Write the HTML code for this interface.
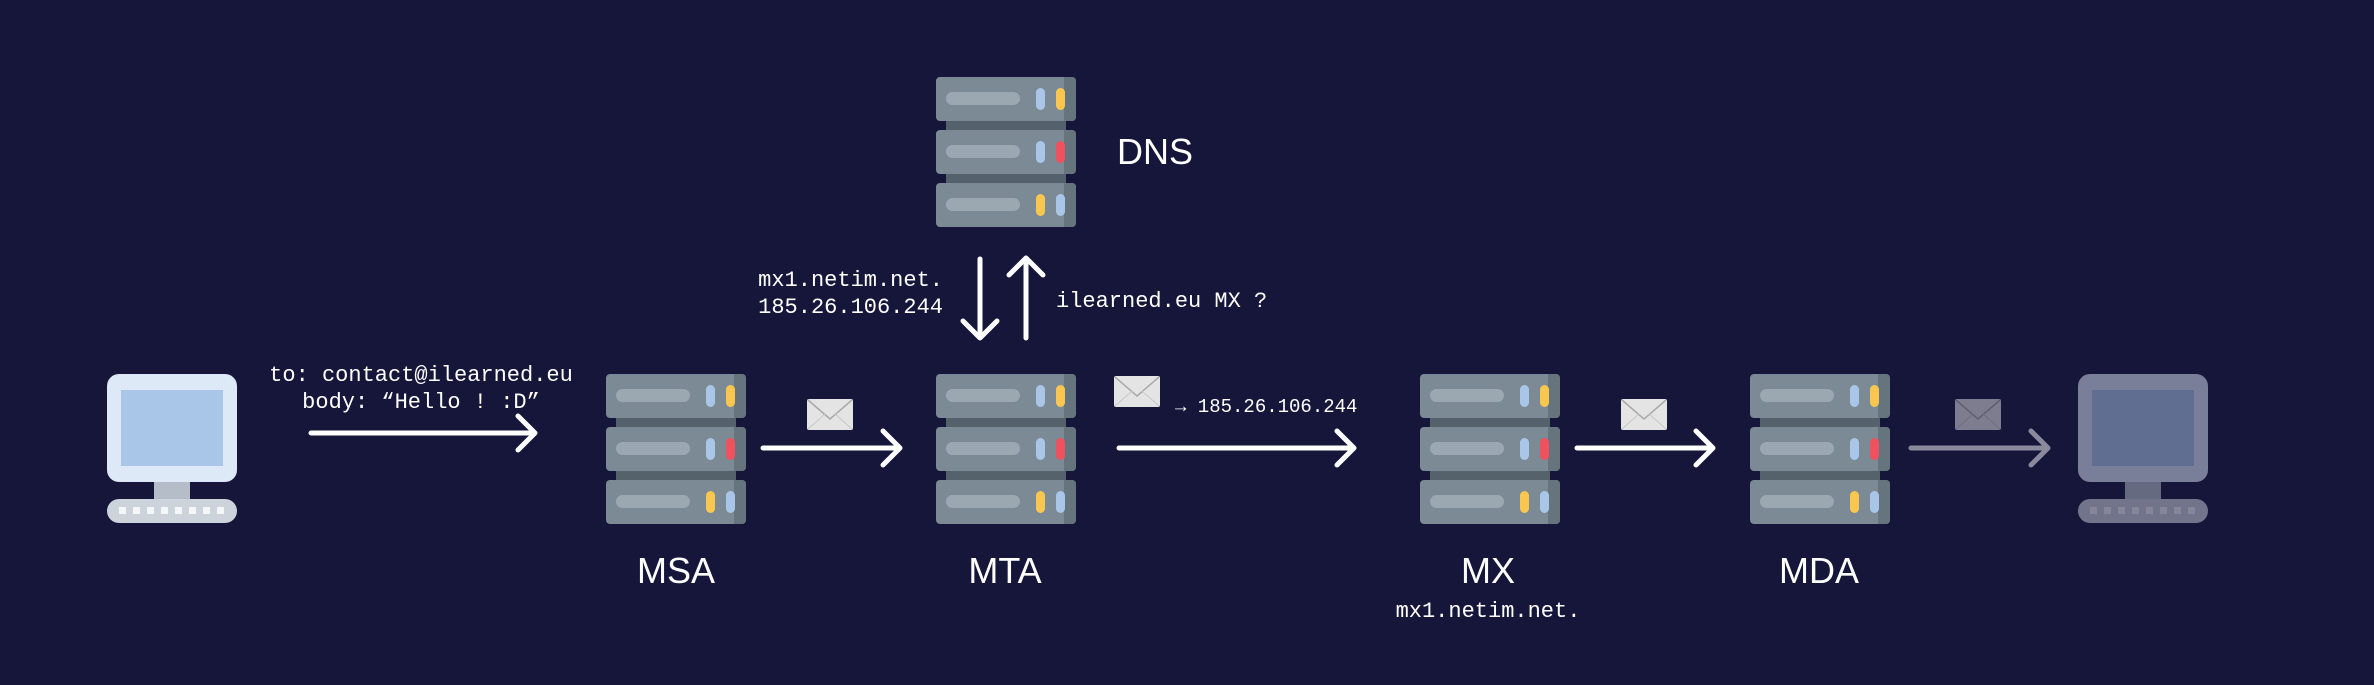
<!DOCTYPE html>
<html><head><meta charset="utf-8"><style>
html,body{margin:0;padding:0;background:#16153a;}
svg{display:block}
.lbl{font-family:"Liberation Sans",sans-serif;font-size:36px;fill:#fff;font-weight:500}
.mono{font-family:"Liberation Mono",monospace;font-size:22px;fill:#fff}
</style></head><body>
<svg width="2374" height="685" viewBox="0 0 2374 685" xmlns="http://www.w3.org/2000/svg">
<defs>
<g id="unit">
  <rect x="0" y="0" width="140" height="44" rx="4" fill="#7b8a94"/>
  <path d="M128 0 h8 a4 4 0 0 1 4 4 v36 a4 4 0 0 1 -4 4 h-8z" fill="#66747d"/>
  <rect x="10" y="15" width="74" height="13" rx="6.5" fill="#9ba8b1"/>
</g>
<g id="server">
  <rect x="10" y="40" width="120" height="20" fill="#55626b"/>
  <rect x="10" y="92" width="120" height="20" fill="#55626b"/>
  <use href="#unit" y="0"/>
  <use href="#unit" y="53"/>
  <use href="#unit" y="106"/>
  <rect x="100" y="11" width="9" height="22" rx="4.5" fill="#a9c6e8"/>
  <rect x="120" y="11" width="9" height="22" rx="4.5" fill="#f9c74f"/>
  <rect x="100" y="64" width="9" height="22" rx="4.5" fill="#a9c6e8"/>
  <rect x="120" y="64" width="9" height="22" rx="4.5" fill="#f0515e"/>
  <rect x="100" y="117" width="9" height="22" rx="4.5" fill="#f9c74f"/>
  <rect x="120" y="117" width="9" height="22" rx="4.5" fill="#a9c6e8"/>
</g>
<g id="pc">
  <rect x="47" y="105" width="36" height="20" fill="#b5bec8"/>
  <rect x="0" y="0" width="130" height="108" rx="12" fill="#dde9f7"/>
  <rect x="14" y="16" width="102" height="76" fill="#a9c6e8"/>
  <rect x="0" y="125" width="130" height="24" rx="12" fill="#cdd3db"/>
  <g fill="#f4f6f8">
    <rect x="12" y="133" width="7" height="7"/><rect x="26" y="133" width="7" height="7"/><rect x="40" y="133" width="7" height="7"/><rect x="54" y="133" width="7" height="7"/><rect x="68" y="133" width="7" height="7"/><rect x="82" y="133" width="7" height="7"/><rect x="96" y="133" width="7" height="7"/><rect x="110" y="133" width="7" height="7"/>
  </g>
</g>
<g id="env">
  <rect x="0" y="0" width="46" height="31" rx="2" fill="#e4e4e4"/>
  <path d="M1 1 L23 20 L45 1" fill="none" stroke="#a9a9a9" stroke-width="1.5"/>
  <path d="M1 30 L18 15 M45 30 L28 15" fill="none" stroke="#c8c8c8" stroke-width="1"/>
</g>
</defs>

<!-- computers -->
<use href="#pc" x="107" y="374"/>
<use href="#pc" x="2078" y="374" opacity="0.5"/>

<!-- servers -->
<use href="#server" x="606" y="374"/>
<use href="#server" x="936" y="374"/>
<use href="#server" x="936" y="77"/>
<use href="#server" x="1420" y="374"/>
<use href="#server" x="1750" y="374"/>

<!-- arrows -->
<g stroke="#fff" stroke-width="5" fill="none" stroke-linecap="round" stroke-linejoin="round">
  <path d="M311 433 H535 M518 416 L535 433 L518 450"/>
  <path d="M763 448 H900 M883 431 L900 448 L883 465"/>
  <path d="M1119 448 H1354 M1337 431 L1354 448 L1337 465"/>
  <path d="M1577 448 H1713 M1696 431 L1713 448 L1696 465"/>
  <path d="M980 259 V338 M963 321 L980 338 L997 321"/>
  <path d="M1026 338 V258 M1009 275 L1026 258 L1043 275"/>
</g>
<g opacity="0.5">
  <path d="M1911 448 H2048 M2031 431 L2048 448 L2031 465" stroke="#fff" stroke-width="5" fill="none" stroke-linecap="round" stroke-linejoin="round"/>
  <use href="#env" x="1955" y="399"/>
</g>

<!-- envelopes -->
<use href="#env" x="807" y="399"/>
<use href="#env" x="1114" y="376"/>
<use href="#env" x="1621" y="399"/>

<!-- text -->
<text class="mono" x="421" y="381" text-anchor="middle">to: contact@ilearned.eu</text>
<text class="mono" x="421" y="408" text-anchor="middle">body: “Hello ! :D”</text>
<text class="mono" x="943" y="286" text-anchor="end">mx1.netim.net.</text>
<text class="mono" x="943" y="313" text-anchor="end">185.26.106.244</text>
<text class="mono" x="1056" y="307">ilearned.eu MX ?</text>
<text class="mono" x="1175" y="412" style="font-size:19px">→ 185.26.106.244</text>
<text class="mono" x="1488" y="617" text-anchor="middle">mx1.netim.net.</text>

<text class="lbl" x="676" y="583" text-anchor="middle">MSA</text>
<text class="lbl" x="1005" y="583" text-anchor="middle">MTA</text>
<text class="lbl" x="1488" y="583" text-anchor="middle">MX</text>
<text class="lbl" x="1819" y="583" text-anchor="middle">MDA</text>
<text class="lbl" x="1117" y="164">DNS</text>
</svg>
</body></html>
